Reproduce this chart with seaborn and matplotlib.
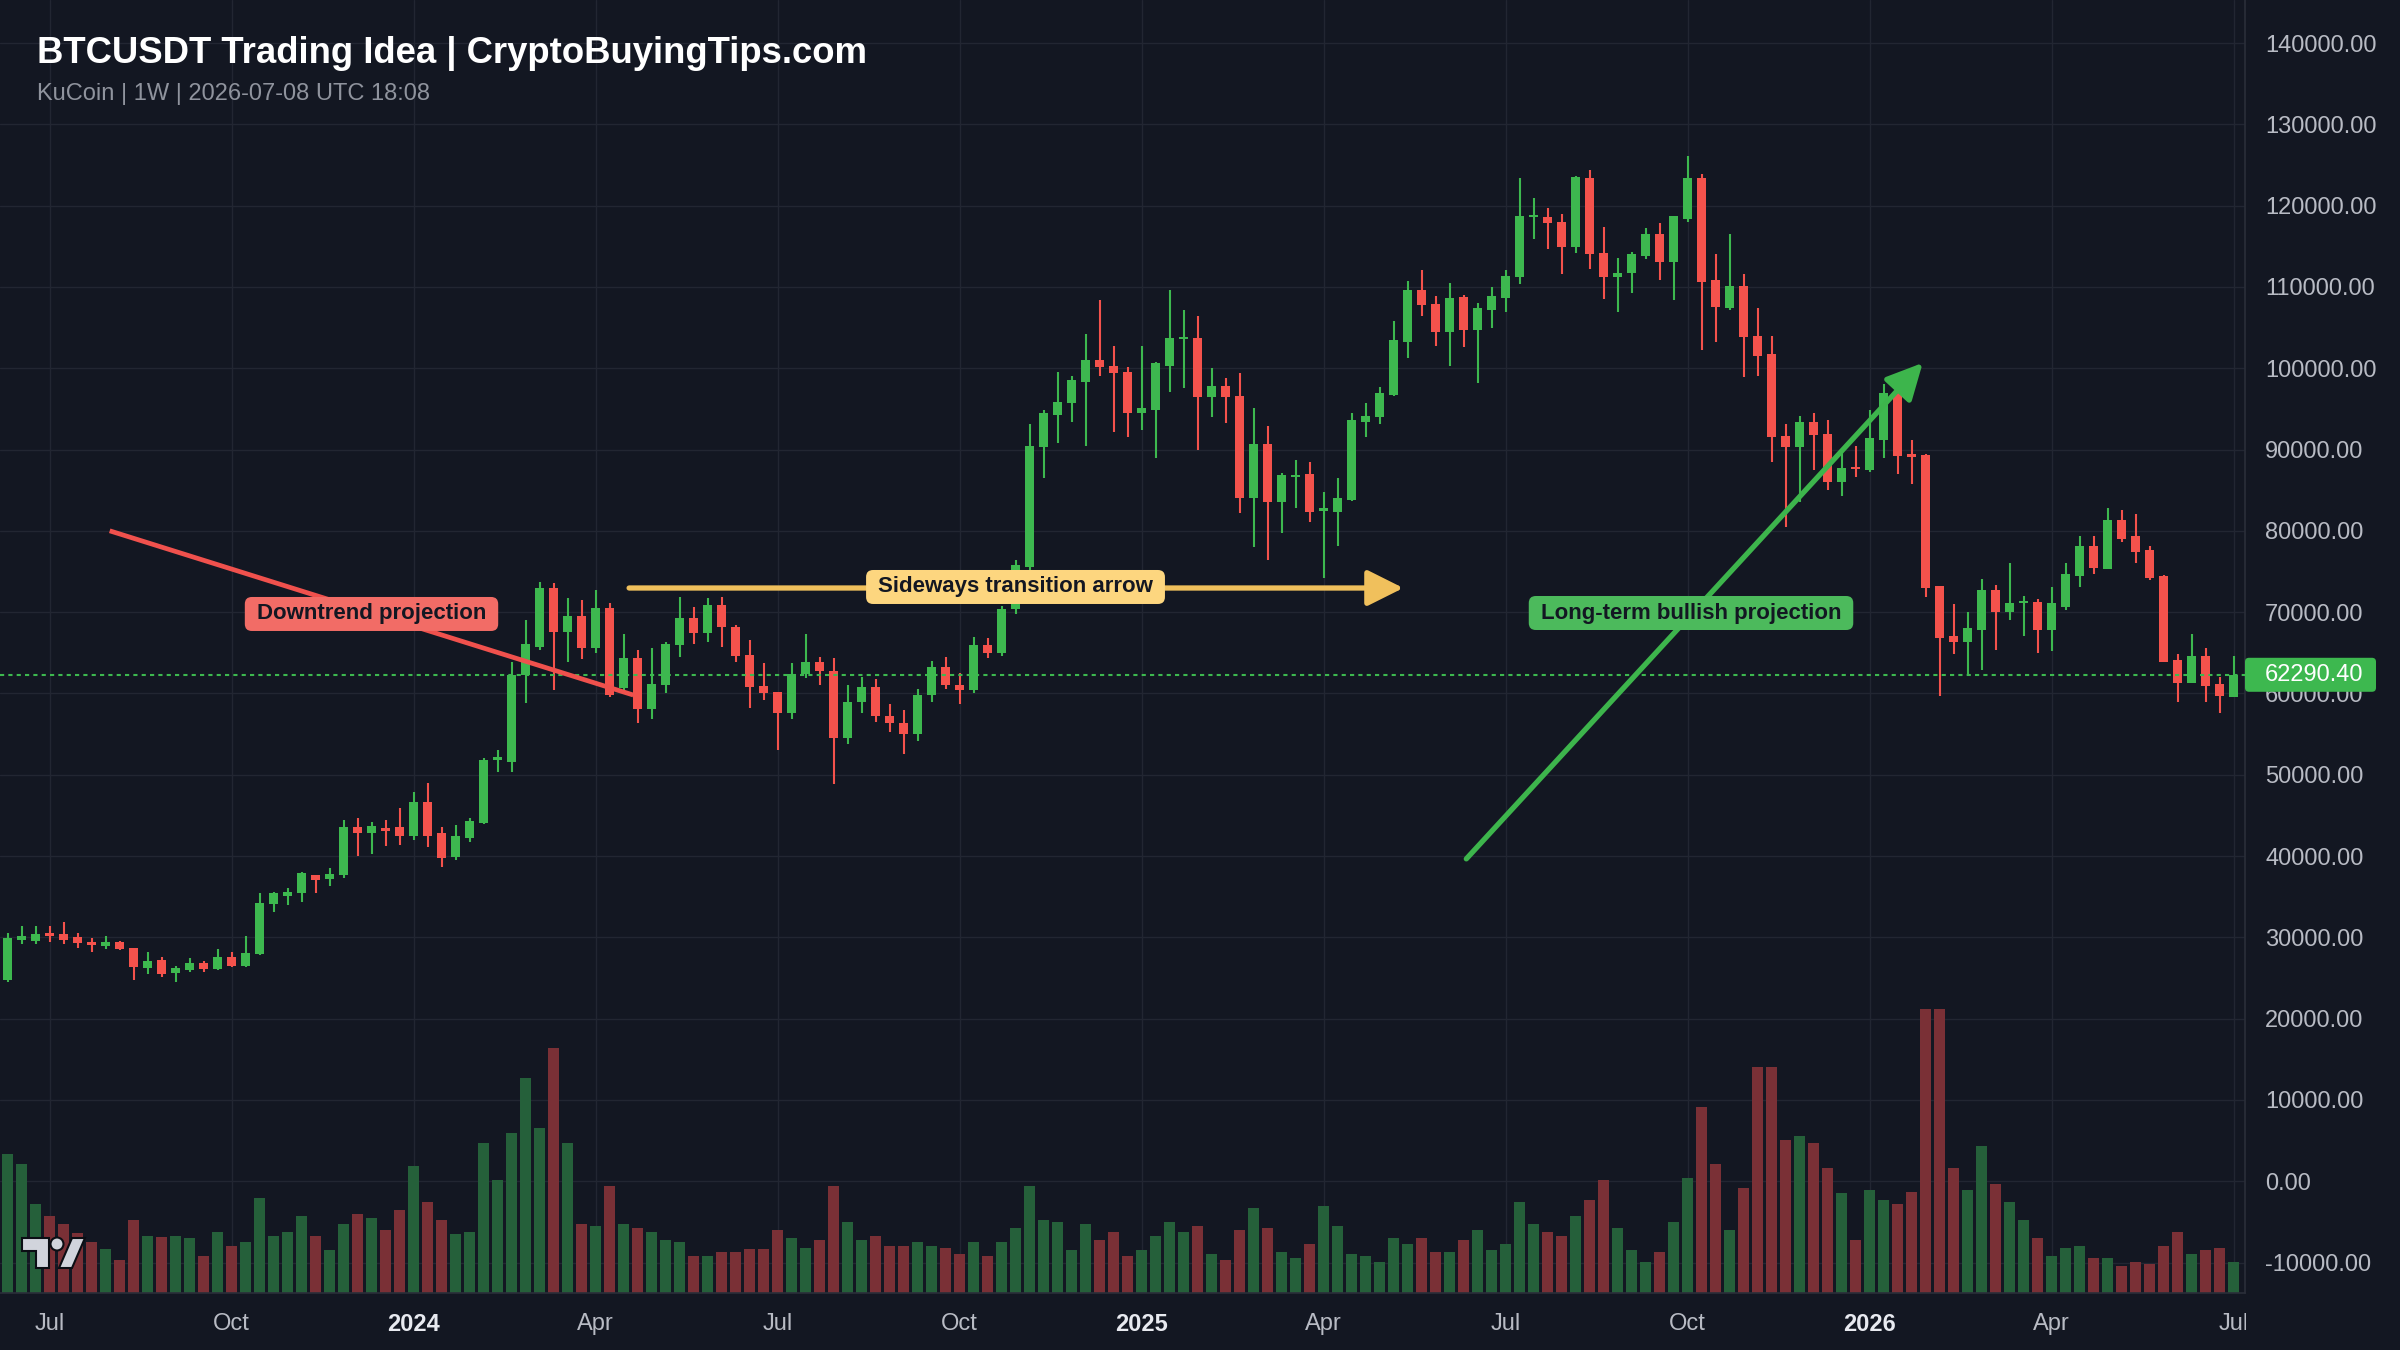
import numpy as np
import matplotlib
matplotlib.use("Agg")
import matplotlib.pyplot as plt
import seaborn as sns
from matplotlib.patches import FancyBboxPatch, Rectangle, Polygon, Circle
from matplotlib.transforms import IdentityTransform
from matplotlib.ticker import FuncFormatter

# ---------------- data (weekly candles) ----------------
opens = [24750, 29700, 29600, 30450, 30400, 30000, 29450, 28930, 29460, 28640,
         26180, 27210, 25570, 25980, 26880, 26060, 27620, 26470, 27950, 34100,
         35080, 35410, 37660, 37130, 37660, 43610, 42790, 43400, 43530, 42460,
         46680, 42800, 39900, 42170, 44100, 51810, 51600, 62260, 65750, 72920,
         67590, 69520, 65540, 70460, 60620, 64310, 58040, 61080, 65950, 69230,
         67390, 70870, 68210, 64720, 60910, 60210, 57550, 62400, 63900, 62700,
         54500, 59000, 60800, 57200, 56300, 55000, 59800, 63300, 61000, 60400,
         66000, 65000, 70400, 75600, 90270, 94240, 95680, 98340, 101010, 100270,
         99570, 94450, 94860, 100270, 103550, 103670, 96420, 97810, 96580, 83990,
         90680, 83580, 86580, 86990, 82440, 82350, 83790, 93420, 93960, 96700,
         103260, 109620, 107900, 104490, 108720, 104700, 107160, 108590, 111180, 118560,
         118640, 117940, 114870, 123350, 114210, 111180, 111670, 113800, 116510, 113100,
         118310, 123350, 110850, 107360, 110110, 103960, 101750, 91660, 90270, 93420,
         91910, 86040, 87680, 87480, 91170, 96990, 89450, 89320, 73210, 67060,
         66360, 67800, 72720, 70050, 71100, 71280, 67800, 70670, 74440, 78130,
         75260, 81330, 79360, 77640, 74440, 64110, 61240, 64600, 61160, 59600]
highs = [30570, 31400, 31400, 31400, 31900, 30500, 29870, 30160, 29590, 28700,
         28230, 27540, 26470, 27410, 27130, 28520, 28230, 30160, 35410, 35610,
         36020, 38070, 37700, 38480, 44430, 44630, 44220, 44430, 45860, 47910,
         48940, 43600, 43800, 44630, 52010, 53040, 63900, 69030, 73740, 73620,
         71690, 71490, 72720, 71160, 67310, 65340, 65540, 66360, 71900, 70670,
         71690, 71900, 68410, 66570, 63780, 60210, 63800, 67300, 64500, 64300,
         61000, 62000, 61800, 58700, 58000, 60500, 64000, 64500, 62500, 67000,
         66800, 70800, 76400, 93140, 94860, 99570, 99040, 104210, 108390, 102730,
         100110, 102730, 100800, 109620, 107160, 106420, 99980, 98760, 99450, 95060,
         92890, 87070, 88710, 88500, 84810, 86450, 94530, 95760, 97730, 105850,
         110770, 112080, 108880, 110520, 109000, 108060, 109950, 112080, 123350, 120890,
         119660, 118970, 123640, 124380, 117410, 113510, 114330, 117200, 117900, 118720,
         126100, 123890, 114050, 116510, 111590, 107360, 103960, 93140, 94120, 94530,
         93630, 89530, 90430, 94860, 98060, 97500, 91170, 89450, 73210, 71000,
         70050, 74030, 73330, 76000, 71980, 71570, 73050, 76000, 79360, 79360,
         82760, 82560, 82070, 78130, 74560, 64850, 67310, 65540, 61980, 64600]
lows = [24550, 29200, 29200, 29460, 29200, 28650, 28230, 28520, 28440, 24750,
        25490, 25080, 24540, 25770, 25770, 25980, 26310, 26310, 27820, 33150,
        33970, 34380, 35410, 36310, 37250, 40000, 40250, 41230, 41350, 41970,
        41150, 38600, 39500, 41760, 43940, 50370, 50370, 58780, 65340, 60420,
        63900, 64190, 64930, 59520, 60420, 56320, 56810, 60010, 64440, 66080,
        66360, 65750, 63900, 58160, 59190, 53040, 56800, 61900, 61000, 48800,
        53800, 57600, 56500, 55200, 52500, 54200, 59000, 60500, 58700, 60000,
        64400, 64600, 69800, 75200, 86450, 90760, 93420, 90430, 99040, 92190,
        91500, 92400, 88910, 97110, 97520, 89940, 93960, 93220, 82150, 78050,
        76410, 79690, 82760, 81120, 74150, 78130, 83710, 91500, 93140, 96580,
        101210, 106420, 102730, 100270, 102570, 98140, 104900, 106950, 110360, 115850,
        114620, 111590, 114130, 112160, 108470, 106950, 109210, 113390, 110850, 108390,
        118020, 102240, 103260, 107160, 98880, 99040, 88500, 80430, 83580, 87480,
        85020, 84280, 86580, 87270, 88910, 86990, 85760, 71820, 59680, 64850,
        62260, 62880, 65340, 69030, 67060, 64930, 65260, 70260, 73050, 74690,
        75260, 78660, 76000, 73950, 63900, 58980, 61240, 58980, 57550, 59520]
closes = [29870, 30100, 30400, 30200, 29700, 29260, 29050, 29460, 28520, 26310,
          27130, 25490, 26180, 26880, 26060, 27620, 26470, 28110, 34260, 35410,
          35610, 37870, 37050, 37790, 43610, 42790, 43690, 43120, 42460, 46680,
          42460, 39700, 42400, 44350, 51810, 52010, 62260, 66040, 72920, 67590,
          69520, 65630, 70460, 59800, 64310, 58040, 61160, 66080, 69230, 67390,
          70870, 68130, 64600, 60750, 60010, 57550, 62400, 63900, 62700, 54500,
          59000, 60800, 57200, 56300, 55000, 59800, 63300, 61000, 60400, 66000,
          65000, 70400, 75800, 90430, 94450, 95880, 98550, 101010, 100110, 99370,
          94450, 95060, 100600, 103670, 103700, 96420, 97810, 96420, 83990, 90680,
          83580, 86860, 86860, 82350, 82560, 83990, 93630, 94120, 96990, 103470,
          109620, 107770, 104490, 108590, 104700, 107360, 108880, 111340, 118720, 118720,
          117820, 114870, 123480, 114050, 111180, 111750, 114050, 116510, 113100, 118720,
          123350, 110640, 107490, 110110, 103800, 101500, 91500, 90270, 93420, 91780,
          86040, 87680, 87560, 91370, 96990, 89200, 89040, 72920, 66770, 66360,
          68090, 72720, 70050, 71160, 71300, 67800, 71080, 74690, 78130, 75380,
          81330, 78950, 77430, 74150, 63900, 61240, 64600, 60910, 59680, 62290.40]
volumes = [139, 129, 89, 77, 69, 60, 51, 44, 33, 73,
           57, 56, 57, 55, 37, 61, 47, 51, 95, 57,
           61, 77, 57, 43, 69, 79, 75, 63, 83, 127,
           91, 73, 59, 61, 150, 113, 160, 215, 165, 245,
           150, 69, 67, 107, 69, 65, 61, 53, 51, 37,
           37, 41, 41, 44, 44, 63, 55, 45, 53, 107,
           71, 53, 57, 47, 47, 51, 47, 45, 39, 51,
           37, 51, 65, 107, 73, 71, 43, 69, 53, 61,
           37, 43, 57, 71, 61, 67, 39, 33, 63, 85,
           65, 41, 35, 49, 87, 67, 39, 37, 31, 55,
           49, 55, 41, 41, 53, 63, 43, 49, 91, 69,
           61, 57, 77, 93, 113, 65, 43, 31, 41, 71,
           115, 186, 129, 63, 105, 226, 226, 153, 157, 150,
           125, 100, 53, 103, 93, 89, 101, 284, 284, 125,
           103, 147, 109, 91, 73, 55, 37, 45, 47, 35,
           35, 27, 31, 29, 47, 61, 39, 43, 45, 31]

tick_labels = ["Jul", "Oct", "2024", "Apr", "Jul", "Oct", "2025",
               "Apr", "Jul", "Oct", "2026", "Apr", "Jul"]
price_ticks = list(range(-10000, 140001, 10000))
last_price = 62290.40

title = "BTCUSDT Trading Idea | CryptoBuyingTips.com"
subtitle = "KuCoin | 1W | 2026-07-08 UTC 18:08"

downtrend_line = {"x": [7.3, 44.7], "y": [80000, 59800]}
sideways_arrow = {"x": [44.4, 99.7], "y": [72965, 72965]}
bullish_arrow = {"x": [104.2, 136.8], "y": [39650, 100650]}
labels = [("Downtrend projection", 26.0, 69770),
          ("Sideways transition arrow", 72.0, 73090),
          ("Long-term bullish projection", 120.25, 69890)]

# ---------------- style ----------------
BG = "#131722"
GRID = "#222632"
GREEN = "#3db84f"
RED = "#f4524c"
VGREEN = "#25603a"
VRED = "#7a3036"
YELLOW = "#f0c05c"
AXIS_TXT = "#b8bbc4"

sns.set_theme(style="dark", rc={"axes.facecolor": BG, "figure.facecolor": BG,
                                "savefig.facecolor": BG, "axes.edgecolor": "#2a2e39"})
plt.rcParams["font.family"] = ["Liberation Sans", "DejaVu Sans"]

W, H = 2400, 1350
fig = plt.figure(figsize=(24, 13.5), dpi=100)
ax = fig.add_axes([0, 57 / H, 2245 / W, 1293 / H])
ax.set_facecolor(BG)

o = np.array(opens, float)
h = np.array(highs, float)
l = np.array(lows, float)
c = np.array(closes, float)
v = np.array(volumes, float)
n = len(o)
x = np.arange(n)
up = c >= o

y_lo, y_hi = -13750, 145290
ax.set_xlim(-0.536, 159.82)
ax.set_ylim(y_lo, y_hi)
per_px = (y_hi - y_lo) / 1293.0

# volume bars (drawn from the bottom of the pane)
ax.bar(x, v * per_px, bottom=y_lo, width=0.8,
       color=np.where(up, VGREEN, VRED), linewidth=0, zorder=2)

# candles
col = np.where(up, GREEN, RED)
ax.vlines(x, l, h, colors=col, linewidth=1.5, zorder=3)
body_lo = np.minimum(o, c)
body_h = np.maximum(np.abs(c - o), 2.5 * per_px)
ax.bar(x, body_h, bottom=body_lo, width=0.66, color=col, linewidth=0, zorder=4)

# last price line
ax.axhline(last_price, color=GREEN, lw=1.5, linestyle=(0, (2, 2)), zorder=5)

# grid
ax.set_axisbelow(True)
ax.grid(True, color=GRID, linewidth=1)

# axes
ax.yaxis.tick_right()
ax.set_yticks(price_ticks)
ax.yaxis.set_major_formatter(FuncFormatter(lambda val, pos: f"{val:.2f}"))
tick_pos = [3 + 13 * k for k in range(len(tick_labels))]
ax.set_xticks(tick_pos)
ax.set_xticklabels(tick_labels)
ax.tick_params(axis="y", length=0, pad=14.4, labelsize=17, labelcolor=AXIS_TXT)
ax.tick_params(axis="x", length=0, pad=14.4, labelsize=17, labelcolor=AXIS_TXT)
for t in ax.get_xticklabels():
    if t.get_text().isdigit():
        t.set_fontweight("bold")
        t.set_color("#e8eaf0")
for s in ["top", "left"]:
    ax.spines[s].set_visible(False)
for s in ["right", "bottom"]:
    ax.spines[s].set_color("#2a2e39")
    ax.spines[s].set_linewidth(1.2)

# annotations
ax.plot(downtrend_line["x"], downtrend_line["y"], color="#f0514d", lw=3.4,
        solid_capstyle="butt", zorder=6)
ax.annotate("", xy=(sideways_arrow["x"][1], sideways_arrow["y"][1]),
            xytext=(sideways_arrow["x"][0], sideways_arrow["y"][0]),
            arrowprops=dict(arrowstyle="-|>,head_length=1.1,head_width=0.55",
                            mutation_scale=20, color=YELLOW, lw=3.8,
                            shrinkA=0, shrinkB=0), zorder=6)
ax.annotate("", xy=(bullish_arrow["x"][1], bullish_arrow["y"][1]),
            xytext=(bullish_arrow["x"][0], bullish_arrow["y"][0]),
            arrowprops=dict(arrowstyle="-|>,head_length=1.1,head_width=0.55",
                            mutation_scale=20, color="#3db54c", lw=3.8,
                            shrinkA=0, shrinkB=0), zorder=6)

renderer = fig.canvas.get_renderer()
box_colors = ["#f26c66", "#fdd67f", "#4cba5c"]
for (txt, lx, ly), fc in zip(labels, box_colors):
    t = ax.text(lx, ly, txt, ha="center", va="center", fontsize=16,
                fontweight="bold", color="#131722", zorder=9)
    bb = t.get_window_extent(renderer=renderer)
    cx, cy = ax.transData.transform((lx, ly))
    bw, bh = bb.width + 24, 34
    p = FancyBboxPatch((cx - bw / 2, cy - bh / 2), bw, bh,
                       boxstyle="round,pad=0,rounding_size=7",
                       transform=IdentityTransform(), fc=fc, ec="none",
                       zorder=8, clip_on=False)
    ax.add_artist(p)

# last price tag on the price scale
px_right = ax.transAxes.transform((1, 0))[0]
py = ax.transData.transform((0, last_price))[1]
tag = FancyBboxPatch((px_right, py - 17), 131, 34,
                     boxstyle="round,pad=0,rounding_size=4",
                     transform=IdentityTransform(), fc="#3db84f", ec="none",
                     zorder=8, clip_on=False)
ax.add_artist(tag)
ax.text(px_right + 20, py, f"{last_price:.2f}", transform=IdentityTransform(),
        ha="left", va="center", fontsize=17, color="white", zorder=9,
        clip_on=False)

# cover for the time labels under the price scale
fig.add_artist(Rectangle((px_right + 1, 0), W - px_right, 56,
                         transform=IdentityTransform(), fc=BG, ec="none",
                         zorder=10))

# title + subtitle
fig.text(37 / W, 1 - 63 / H, title, ha="left", va="baseline", fontsize=26.3,
         fontweight="bold", color="white")
fig.text(37 / W, 1 - 100 / H, subtitle, ha="left", va="baseline", fontsize=17,
         color="#8f939d")

# TradingView-like logo
def img(xp, yp):
    return (xp, H - yp)
logo_col = "#d1d4dc"
fig.add_artist(Polygon([img(22, 1238), img(49, 1238), img(49, 1268), img(36, 1268),
                        img(36, 1251), img(22, 1251)], closed=True,
                       transform=IdentityTransform(), fc=logo_col, ec="#0b0e14",
                       lw=1.5, zorder=11))
fig.add_artist(Circle(img(57, 1244), 6.5, transform=IdentityTransform(),
                      fc=logo_col, ec="#0b0e14", lw=1.5, zorder=11))
fig.add_artist(Polygon([img(59, 1268), img(72, 1268), img(85, 1238), img(72, 1238)],
                       closed=True, transform=IdentityTransform(), fc=logo_col,
                       ec="#0b0e14", lw=1.5, zorder=11))

fig.savefig("out.png", dpi=100, facecolor=BG)
